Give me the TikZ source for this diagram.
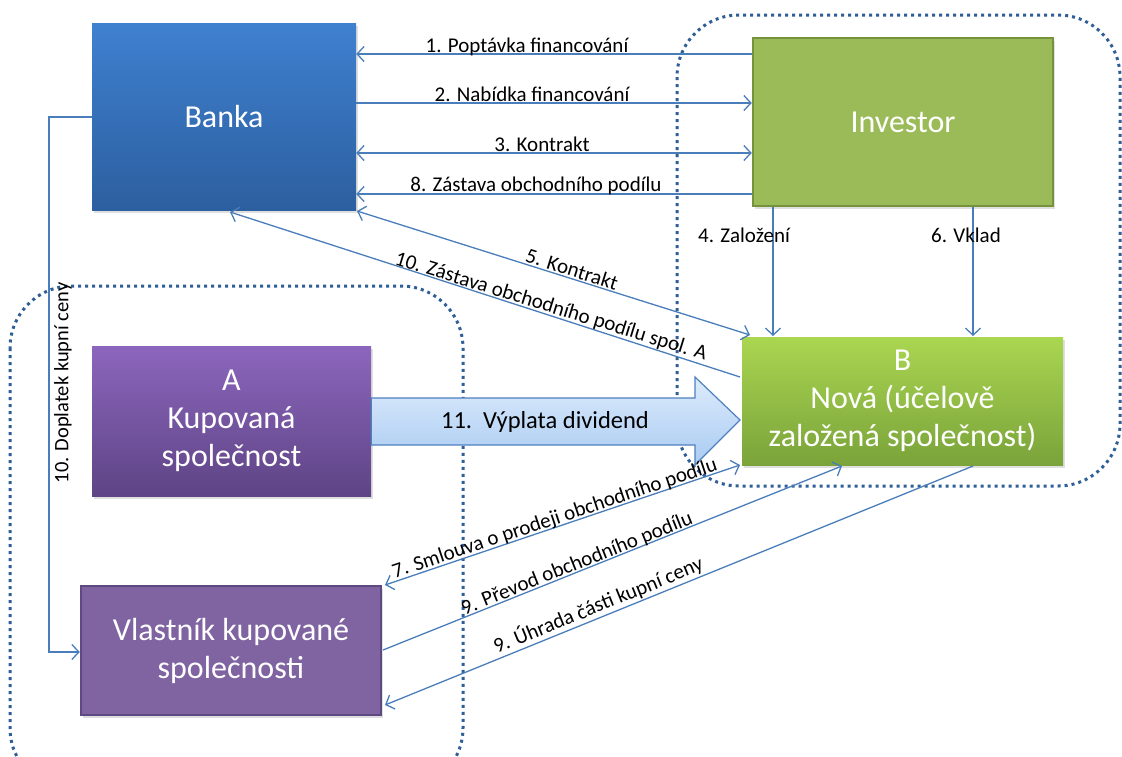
\documentclass[tikz,border=0pt]{standalone}
\usepackage{fontspec}
\setmainfont{Carlito}
\usetikzlibrary{arrows.meta,shadows}
\definecolor{conn}{HTML}{4A7EBB}
\definecolor{dotc}{HTML}{2F5F96}
\definecolor{bankTop}{HTML}{3F80D0}
\definecolor{bankBot}{HTML}{2C5F9F}
\definecolor{invFill}{HTML}{9BBB59}
\definecolor{invBorder}{HTML}{76923C}
\definecolor{aTop}{HTML}{8C66BD}
\definecolor{aBot}{HTML}{5E4485}
\definecolor{bTop}{HTML}{AAD651}
\definecolor{bBot}{HTML}{7AA33A}
\definecolor{vFill}{HTML}{8064A2}
\definecolor{vBorder}{HTML}{5E4A80}
\definecolor{arrTop}{HTML}{DDEBFC}
\definecolor{arrBot}{HTML}{A9CBF2}
\definecolor{arrBorder}{HTML}{4F81BD}
\tikzset{
  box/.style={rectangle, inner sep=0pt, align=center, text=white,
    font=\fontsize{32}{38}\selectfont,
    drop shadow={shadow xshift=2pt, shadow yshift=-3pt, opacity=0.25}},
  conn/.style={draw=conn, line width=1.3pt},
  barb/.tip={Straight Barb[length=7pt,width=15pt,line width=1.3pt]},
  tip/.style={-barb},
  dtip/.style={barb-barb},
  lbl/.style={font=\fontsize{21}{25}\selectfont, text=black, inner sep=1pt},
  grp/.style={draw=dotc, line width=3pt, dash pattern=on 3pt off 4pt, rounded corners=62pt},
}
\begin{document}
\begin{tikzpicture}[x=1pt,y=-1pt]
\useasboundingbox (0,0) rectangle (1122,756);
\fill[white] (0,0) rectangle (1122,756);

% dotted groups
\begin{scope}
\clip (0,0) rectangle (1122,756);
\draw[grp] (677,15) rectangle (1120,486);
\draw[grp] (10,286) rectangle (463,790);
\end{scope}

% boxes
\node[box, minimum width=264pt, minimum height=187pt, top color=bankTop, bottom color=bankBot] (bank) at (224,116.5) {Banka};
\node[box, minimum width=300pt, minimum height=168pt, fill=invFill, draw=invBorder, line width=2.5pt] (inv) at (903,122) {Investor};
\node[box, minimum width=279pt, minimum height=150pt, top color=aTop, bottom color=aBot] (a) at (231.5,421) {A\\Kupovaná\\společnost};
\node[box, minimum width=321pt, minimum height=128pt, top color=bTop, bottom color=bBot] (b) at (902.5,401) {B\\Nová (účelově\\založená společnost)};
\node[box, minimum width=300pt, minimum height=129pt, fill=vFill, draw=vBorder, line width=2.5pt] (v) at (231,650.5) {Vlastník kupované\\společnosti};

% block arrow
\path[draw=arrBorder, line width=1.2pt, top color=arrTop, bottom color=arrBot]
  (a.east |- 0,398) -- (695,398) -- (695,377) -- (740,420) coordinate (btip) -- (695,465) -- (695,445) -- (a.east |- 0,445) -- cycle;
\node[lbl, font=\fontsize{24.5}{29}\selectfont] (l11) at (545,422) {11.\ \ Výplata dividend};

% horizontal connectors bank <-> investor
\draw[conn, tip] (inv.west |- 0,54) -- (bank.east |- 0,54);
\node[lbl, anchor=base] (l1) at (527,52) {1. Poptávka financování};
\draw[conn, tip] (bank.east |- 0,103) -- (inv.west |- 0,103);
\node[lbl, anchor=base] (l2) at (532,101) {2. Nabídka financování};
\draw[conn, dtip] (bank.east |- 0,153) -- (inv.west |- 0,153);
\node[lbl, anchor=base] (l3) at (542,151) {3. Kontrakt};
\draw[conn, tip] (inv.west |- 0,194) -- (bank.east |- 0,194);
\node[lbl, anchor=base] (l8) at (536,191) {8. Zástava obchodního podílu};

% vertical investor -> B
\coordinate (i4) at (773,207);
\coordinate (b4) at (773,336);
\draw[conn, tip] (i4) -- (b4);
\node[lbl] (l4) at (744,235) {4. Založení};
\coordinate (i6) at (973,207);
\coordinate (b6) at (973,336);
\draw[conn, tip] (i6) -- (b6);
\node[lbl] (l6) at (966,235) {6. Vklad};

% diagonal bank <-> B
\coordinate (k5a) at (357,211);
\coordinate (k5b) at (750,335);
\draw[conn, dtip] (k5a) -- (k5b);
\node[lbl, rotate=-17.4] (l5) at (572,269) {5. Kontrakt};
\coordinate (z10a) at (740,377);
\coordinate (z10b) at (230,212);
\draw[conn, tip] (z10a) -- (z10b);
\node[lbl, rotate=-17.2] (l10) at (551,307) {10. Zástava obchodního podílu spol. A};

% B <-> Vlastnik
\coordinate (s7a) at (385,585);
\coordinate (s7b) at (740,465);
\draw[conn, dtip] (s7a) -- (s7b);
\node[lbl, rotate=18.5] (l7) at (555,519) {7. Smlouva o prodeji obchodního podílu};
\coordinate (p9a) at (383,650);
\coordinate (p9b) at (842,466);
\draw[conn, tip] (p9a) -- (p9b);
\node[lbl, rotate=21.8] (l9a) at (577,564) {9. Převod obchodního podílu};
\coordinate (u9a) at (973,466);
\coordinate (u9b) at (385,705);
\draw[conn, tip] (u9a) -- (u9b);
\node[lbl, rotate=22.1] (l9b) at (598,605) {9. Úhrada části kupní ceny};

% bank -> vlastnik (left)
\coordinate (d10) at (49,117);
\draw[conn, tip] (bank.west |- 0,117) -- (d10) -- (49,652) -- (v.west |- 0,652);
\node[lbl, rotate=90, font=\fontsize{20.5}{24}\selectfont] (l10d) at (63,383) {10. Doplatek kupní ceny};
\end{tikzpicture}
\end{document}
